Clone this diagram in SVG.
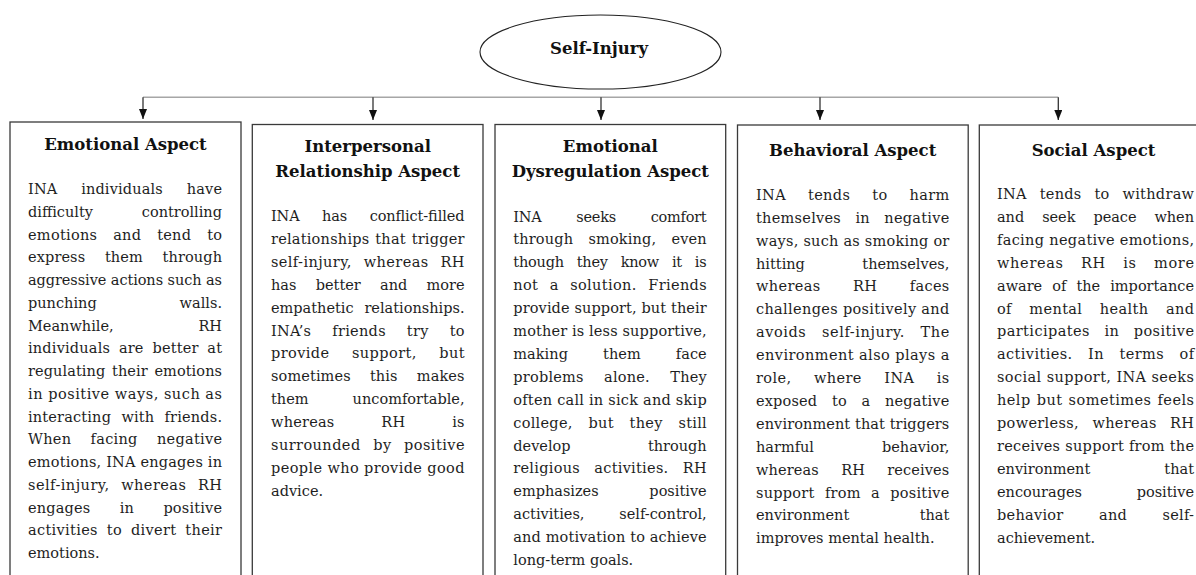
<svg xmlns="http://www.w3.org/2000/svg" width="1196" height="575" viewBox="0 0 1196 575">
<style>
.box{fill:#fff;stroke:#3a3a3a;stroke-width:1.3}
.ell{fill:#fff;stroke:#222;stroke-width:1.1}
.t{font-family:"DejaVu Serif","Liberation Serif",serif;font-size:16.5px;font-weight:bold;text-anchor:middle;fill:#111}
.b{font-family:"DejaVu Serif","Liberation Serif",serif;font-size:14.5px;fill:#1e1e1e}
.r{text-anchor:end}
.hl{stroke:#a6a6a6;stroke-width:1.6;fill:none}
.st{stroke:#333;stroke-width:1.3;fill:none;marker-end:url(#ah)}
</style>
<defs>
<marker id="ah" markerWidth="10" markerHeight="8" refX="10" refY="4" orient="auto" markerUnits="userSpaceOnUse">
<path d="M0,0 L10,4 L0,8 z" fill="#111"/>
</marker>
</defs>
<rect width="1196" height="575" fill="#fff"/>

<g id="connectors">
<line class="hl" x1="143" y1="97.3" x2="1058.3" y2="97.3"/>
<line class="st" x1="143" y1="97.3" x2="143" y2="119"/>
<line class="st" x1="373" y1="97.3" x2="373" y2="120"/>
<line class="st" x1="601" y1="97.3" x2="601" y2="120"/>
<line class="st" x1="820" y1="97.3" x2="820" y2="120"/>
<line class="st" x1="1058.3" y1="97.3" x2="1058.3" y2="120"/>
</g>

<g id="root">
<ellipse class="ell" cx="600.5" cy="52" rx="120.5" ry="37"/>
<text class="t" x="599" y="53.5">Self-Injury</text>
</g>

<g id="emotional">
<rect class="box" x="10" y="122" width="231" height="470"/>
<text class="t" x="125.5" y="150">Emotional Aspect</text>
<text class="b" x="28" y="194" textLength="194" lengthAdjust="spacing" word-spacing="19">INA individuals have</text>
<text class="b" x="28" y="216.75">difficulty</text><text class="b r" x="222" y="216.75">controlling</text>
<text class="b" x="28" y="239.5" textLength="194" lengthAdjust="spacing" word-spacing="11">emotions and tend to</text>
<text class="b" x="28" y="262.25" textLength="194" lengthAdjust="spacing" word-spacing="15">express them through</text>
<text class="b" x="28" y="285" textLength="194" lengthAdjust="spacing">aggressive actions such as</text>
<text class="b" x="28" y="307.75">punching</text><text class="b r" x="222" y="307.75">walls.</text>
<text class="b" x="28" y="330.5">Meanwhile,</text><text class="b r" x="222" y="330.5">RH</text>
<text class="b" x="28" y="353.25" textLength="194" lengthAdjust="spacing" word-spacing="4">individuals are better at</text>
<text class="b" x="28" y="376" textLength="194" lengthAdjust="spacing" word-spacing="2">regulating their emotions</text>
<text class="b" x="28" y="398.75" textLength="194" lengthAdjust="spacing">in positive ways, such as</text>
<text class="b" x="28" y="421.5" textLength="194" lengthAdjust="spacing" word-spacing="5.5">interacting with friends.</text>
<text class="b" x="28" y="444.25" textLength="194" lengthAdjust="spacing" word-spacing="14.5">When facing negative</text>
<text class="b" x="28" y="467" textLength="194" lengthAdjust="spacing">emotions, INA engages in</text>
<text class="b" x="28" y="489.75" textLength="194" lengthAdjust="spacing" word-spacing="6.5">self-injury, whereas RH</text>
<text class="b" x="28" y="512.5" textLength="194" lengthAdjust="spacing" word-spacing="24.5">engages in positive</text>
<text class="b" x="28" y="535.25" textLength="194" lengthAdjust="spacing" word-spacing="4">activities to divert their</text>
<text class="b" x="28" y="558">emotions.</text>
</g>

<g id="interpersonal">
<rect class="box" x="252.3" y="124.5" width="230.7" height="470"/>
<text class="t" x="367.7" y="152.3">Interpersonal</text>
<text class="t" x="367.7" y="176.7">Relationship Aspect</text>
<text class="b" x="271" y="221" textLength="193.5" lengthAdjust="spacing" word-spacing="18">INA has conflict-filled</text>
<text class="b" x="271" y="243.9" textLength="193.5" lengthAdjust="spacing" word-spacing="1">relationships that trigger</text>
<text class="b" x="271" y="266.8" textLength="193.5" lengthAdjust="spacing" word-spacing="7">self-injury, whereas RH</text>
<text class="b" x="271" y="289.7" textLength="193.5" lengthAdjust="spacing" word-spacing="14.5">has better and more</text>
<text class="b" x="271" y="312.6">empathetic</text><text class="b r" x="464.5" y="312.6">relationships.</text>
<text class="b" x="271" y="335.5" textLength="193.5" lengthAdjust="spacing" word-spacing="16">INA’s friends try to</text>
<text class="b" x="271" y="358.4" textLength="193.5" lengthAdjust="spacing" word-spacing="17.5">provide support, but</text>
<text class="b" x="271" y="381.3" textLength="193.5" lengthAdjust="spacing" word-spacing="14.5">sometimes this makes</text>
<text class="b" x="271" y="404.2">them</text><text class="b r" x="464.5" y="404.2">uncomfortable,</text>
<text class="b" x="271" y="427.1" textLength="193.5" lengthAdjust="spacing" word-spacing="42">whereas RH is</text>
<text class="b" x="271" y="450" textLength="193.5" lengthAdjust="spacing" word-spacing="7.5">surrounded by positive</text>
<text class="b" x="271" y="472.9" textLength="193.5" lengthAdjust="spacing">people who provide good</text>
<text class="b" x="271" y="495.8">advice.</text>
</g>

<g id="dysregulation">
<rect class="box" x="495" y="124.5" width="230.7" height="470"/>
<text class="t" x="610.3" y="151.7">Emotional</text>
<text class="t" x="610.3" y="176.7">Dysregulation Aspect</text>
<text class="b" x="513.3" y="221.5" textLength="193.4" lengthAdjust="spacing" word-spacing="30.5">INA seeks comfort</text>
<text class="b" x="513.3" y="244.4" textLength="193.4" lengthAdjust="spacing" word-spacing="10.5">through smoking, even</text>
<text class="b" x="513.3" y="267.3" textLength="193.4" lengthAdjust="spacing" word-spacing="8.5">though they know it is</text>
<text class="b" x="513.3" y="290.2" textLength="193.4" lengthAdjust="spacing" word-spacing="6.5">not a solution. Friends</text>
<text class="b" x="513.3" y="313.1" textLength="193.4" lengthAdjust="spacing">provide support, but their</text>
<text class="b" x="513.3" y="336" textLength="193.4" lengthAdjust="spacing">mother is less supportive,</text>
<text class="b" x="513.3" y="358.9" textLength="193.4" lengthAdjust="spacing" word-spacing="30.5">making them face</text>
<text class="b" x="513.3" y="381.8" textLength="193.4" lengthAdjust="spacing" word-spacing="15.5">problems alone. They</text>
<text class="b" x="513.3" y="404.7" textLength="193.4" lengthAdjust="spacing">often call in sick and skip</text>
<text class="b" x="513.3" y="427.6" textLength="193.4" lengthAdjust="spacing" word-spacing="11">college, but they still</text>
<text class="b" x="513.3" y="450.5">develop</text><text class="b r" x="706.7" y="450.5">through</text>
<text class="b" x="513.3" y="473.4" textLength="193.4" lengthAdjust="spacing" word-spacing="9.5">religious activities. RH</text>
<text class="b" x="513.3" y="496.3">emphasizes</text><text class="b r" x="706.7" y="496.3">positive</text>
<text class="b" x="513.3" y="519.2">activities,</text><text class="b r" x="706.7" y="519.2">self-control,</text>
<text class="b" x="513.3" y="542.1" textLength="193.4" lengthAdjust="spacing">and motivation to achieve</text>
<text class="b" x="513.3" y="565">long-term goals.</text>
</g>

<g id="behavioral">
<rect class="box" x="737.5" y="125" width="230.7" height="470"/>
<text class="t" x="852.7" y="156">Behavioral Aspect</text>
<text class="b" x="756" y="199.8" textLength="193.3" lengthAdjust="spacing" word-spacing="17">INA tends to harm</text>
<text class="b" x="756" y="222.7" textLength="193.3" lengthAdjust="spacing" word-spacing="9.5">themselves in negative</text>
<text class="b" x="756" y="245.6" textLength="193.3" lengthAdjust="spacing">ways, such as smoking or</text>
<text class="b" x="756" y="268.5">hitting</text><text class="b r" x="949.3" y="268.5">themselves,</text>
<text class="b" x="756" y="291.4" textLength="193.3" lengthAdjust="spacing" word-spacing="27.5">whereas RH faces</text>
<text class="b" x="756" y="314.3" textLength="193.3" lengthAdjust="spacing">challenges positively and</text>
<text class="b" x="756" y="337.2" textLength="193.3" lengthAdjust="spacing" word-spacing="10.5">avoids self-injury. The</text>
<text class="b" x="756" y="360.1" textLength="193.3" lengthAdjust="spacing">environment also plays a</text>
<text class="b" x="756" y="383" textLength="193.3" lengthAdjust="spacing" word-spacing="17.5">role, where INA is</text>
<text class="b" x="756" y="405.9" textLength="193.3" lengthAdjust="spacing" word-spacing="10">exposed to a negative</text>
<text class="b" x="756" y="428.8" textLength="193.3" lengthAdjust="spacing">environment that triggers</text>
<text class="b" x="756" y="451.7">harmful</text><text class="b r" x="949.3" y="451.7">behavior,</text>
<text class="b" x="756" y="474.6" textLength="193.3" lengthAdjust="spacing" word-spacing="17.5">whereas RH receives</text>
<text class="b" x="756" y="497.5" textLength="193.3" lengthAdjust="spacing" word-spacing="5.5">support from a positive</text>
<text class="b" x="756" y="520.4">environment</text><text class="b r" x="949.3" y="520.4">that</text>
<text class="b" x="756" y="543.3">improves mental health.</text>
</g>

<g id="social">
<rect class="box" x="979.3" y="125" width="240" height="470"/>
<text class="t" x="1093.5" y="156">Social Aspect</text>
<text class="b" x="997" y="199" textLength="197" lengthAdjust="spacing" word-spacing="8">INA tends to withdraw</text>
<text class="b" x="997" y="221.9" textLength="197" lengthAdjust="spacing" word-spacing="13.5">and seek peace when</text>
<text class="b" x="997" y="244.8" textLength="197" lengthAdjust="spacing">facing negative emotions,</text>
<text class="b" x="997" y="267.7" textLength="197" lengthAdjust="spacing" word-spacing="12">whereas RH is more</text>
<text class="b" x="997" y="290.6" textLength="197" lengthAdjust="spacing" word-spacing="5.5">aware of the importance</text>
<text class="b" x="997" y="313.5" textLength="197" lengthAdjust="spacing" word-spacing="12.5">of mental health and</text>
<text class="b" x="997" y="336.4" textLength="197" lengthAdjust="spacing" word-spacing="9.5">participates in positive</text>
<text class="b" x="997" y="359.3" textLength="197" lengthAdjust="spacing" word-spacing="10.5">activities. In terms of</text>
<text class="b" x="997" y="382.2" textLength="197" lengthAdjust="spacing">social support, INA seeks</text>
<text class="b" x="997" y="405.1" textLength="197" lengthAdjust="spacing" word-spacing="1">help but sometimes feels</text>
<text class="b" x="997" y="428" textLength="197" lengthAdjust="spacing" word-spacing="8.5">powerless, whereas RH</text>
<text class="b" x="997" y="450.9" textLength="197" lengthAdjust="spacing">receives support from the</text>
<text class="b" x="997" y="473.8">environment</text><text class="b r" x="1194" y="473.8">that</text>
<text class="b" x="997" y="496.7">encourages</text><text class="b r" x="1194" y="496.7">positive</text>
<text class="b" x="997" y="519.6" textLength="197" lengthAdjust="spacing" word-spacing="30.5">behavior and self-</text>
<text class="b" x="997" y="542.5">achievement.</text>
</g>
</svg>
